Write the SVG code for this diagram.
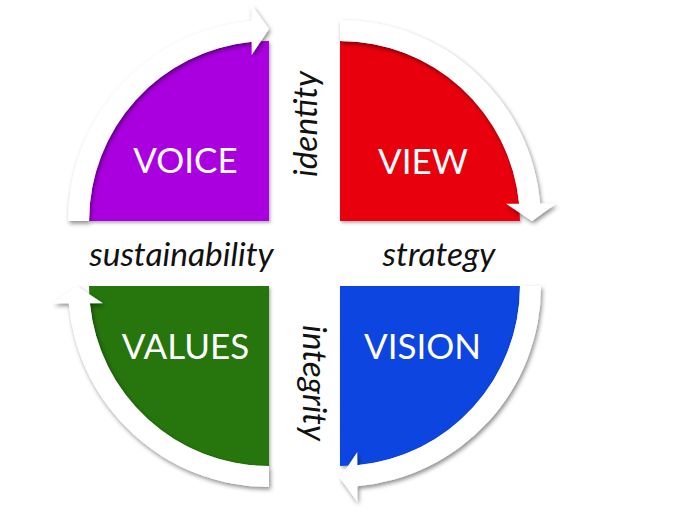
<svg xmlns="http://www.w3.org/2000/svg" xmlns:xlink="http://www.w3.org/1999/xlink" width="674" height="515" viewBox="0 0 674 515">
  <style>
    .q { filter: url(#qs); }
    .qt { font-family: Lato, "Liberation Sans", sans-serif; font-size: 35px; fill: #ffffff; text-anchor: middle; }
    .lb { font-family: Lato, "Liberation Sans", sans-serif; font-style: italic; font-size: 33.5px; fill: #111111; text-anchor: middle; }
    .arrow { fill: #ffffff; }
  </style>
  <defs>
    <filter id="qs" x="-20%" y="-20%" width="140%" height="140%">
      <feDropShadow dx="1.5" dy="2" stdDeviation="1.5" flood-color="#000" flood-opacity="0.3"/>
    </filter>
    <filter id="as" x="-20%" y="-20%" width="140%" height="140%">
      <feDropShadow dx="1.5" dy="2.5" stdDeviation="2" flood-color="#000" flood-opacity="0.45"/>
    </filter>
    <path id="arc-arrow" d="M -180 0 A 180 180 0 0 1 -17.3 -179.17 L -17.3 -166 L 0 -192 L -17.3 -216 L -17.3 -200.25 A 201 201 0 0 0 -201 0 Z"/>
  </defs>
  <rect width="674" height="515" fill="#ffffff"/>

  <g id="voice">
    <path class="q" d="M269,221 L89,221 A180,180 0 0 1 269,41 Z" fill="#AA00E0"/>
    <text class="qt" x="185.5" y="173">VOICE</text>
  </g>
  <g id="view">
    <path class="q" d="M340,221 L340,41 A180,180 0 0 1 520,221 Z" fill="#E8000A"/>
    <text class="qt" x="423" y="174">VIEW</text>
  </g>
  <g id="vision">
    <path class="q" d="M340,286 L520,286 A180,180 0 0 1 340,466 Z" fill="#0844E0"/>
    <text class="qt" x="422.5" y="359">VISION</text>
  </g>
  <g id="values">
    <path class="q" d="M269,286 L269,466 A180,180 0 0 1 89,286 Z" fill="#267408"/>
    <text class="qt" x="185.5" y="359">VALUES</text>
  </g>

  <g id="connectors">
    <g filter="url(#as)"><use xlink:href="#arc-arrow" href="#arc-arrow" class="arrow" transform="translate(269,221)"/></g>
    <g filter="url(#as)"><use xlink:href="#arc-arrow" href="#arc-arrow" class="arrow" transform="translate(340,221) rotate(90)"/></g>
    <g filter="url(#as)"><use xlink:href="#arc-arrow" href="#arc-arrow" class="arrow" transform="translate(340,286) rotate(180)"/></g>
    <g filter="url(#as)"><use xlink:href="#arc-arrow" href="#arc-arrow" class="arrow" transform="translate(269,286) rotate(270)"/></g>
  </g>

  <g id="labels">
    <text class="lb" x="0" y="0" transform="translate(317,124) rotate(-90)">identity</text>
    <text class="lb" x="0" y="0" transform="translate(302.5,383) rotate(90)">integrity</text>
    <text class="lb" x="181.5" y="266">sustainability</text>
    <text class="lb" x="439" y="266">strategy</text>
  </g>
</svg>
